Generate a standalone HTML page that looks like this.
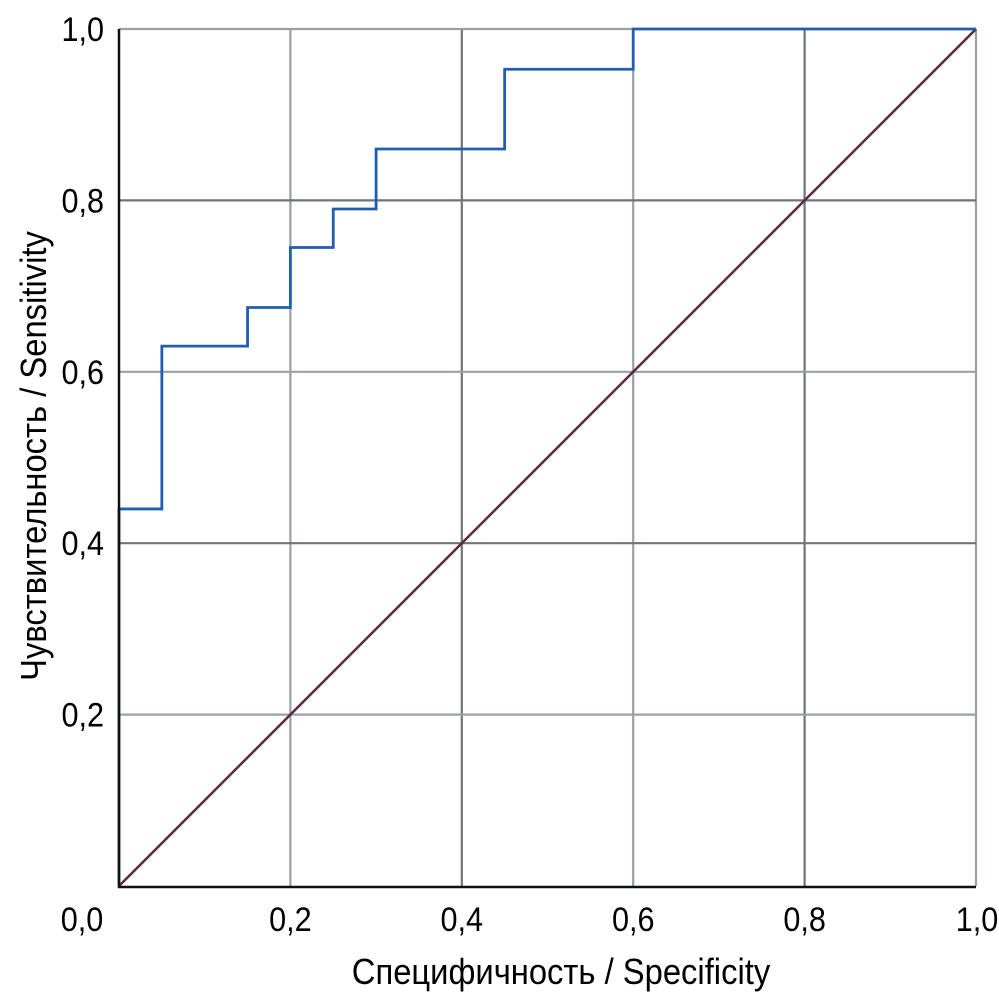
<!DOCTYPE html>
<html><head><meta charset="utf-8">
<style>
html,body{margin:0;padding:0;background:#fff;}
svg{display:block;}
text{font-family:"Liberation Sans",sans-serif;fill:#000;}
</style></head>
<body>
<svg id="chart" width="999" height="1001" xmlns="http://www.w3.org/2000/svg">
<g id="grid"></g>
<g id="series"></g>
<g id="axes"></g>
<text x="0" y="0" font-size="36" text-anchor="middle" transform="translate(561,984) scale(0.91,1)">Специфичность / Specificity</text>
<text x="0" y="0" font-size="36" text-anchor="middle" transform="translate(46,456) rotate(-90) scale(0.91,1)">Чувствительность / Sensitivity</text>
</svg>
<script>
const xTicks = [0, 0.2, 0.4, 0.6, 0.8, 1.0];
const yTicks = [0.2, 0.4, 0.6, 0.8, 1.0];
const tickLabelsX = ["0,0","0,2","0,4","0,6","0,8","1,0"];
const tickLabelsY = ["0,2","0,4","0,6","0,8","1,0"];
const rocX = [0, 0, 0.05, 0.05, 0.15, 0.15, 0.2, 0.2, 0.25, 0.25, 0.3, 0.3, 0.45, 0.45, 0.6, 0.6, 1.0];
const rocY = [0, 0.44, 0.44, 0.63, 0.63, 0.675, 0.675, 0.745, 0.745, 0.79, 0.79, 0.86, 0.86, 0.953, 0.953, 1.0, 1.0];
const diagX = [0, 1];
const diagY = [0, 1];

const X0=119, X1=976, Y0=886, Y1=29;
function sx(v){return X0+(X1-X0)*v;}
function sy(v){return Y0-(Y0-Y1)*v;}
const NS="http://www.w3.org/2000/svg";
function mk(tag,attrs,parent){const e=document.createElementNS(NS,tag);for(const k in attrs)e.setAttribute(k,attrs[k]);document.getElementById(parent).appendChild(e);return e;}

xTicks.forEach((t,i)=>{
  if(t>0){
    const l=mk('line',{x1:sx(t),x2:sx(t),y1:sy(0),y2:sy(1),stroke:(i%2==0?'#6e7478':'#9aa0a4'),'stroke-width':2.2},'grid');
    
    
  }
  const cx = i==0 ? 82 : (i==xTicks.length-1 ? 977 : sx(t));
  const tx=mk('text',{x:0,y:0,'font-size':34,'text-anchor':'middle',transform:`translate(${cx},931) scale(0.9,1)`},'axes');
  tx.textContent=tickLabelsX[i];
  
  
});
yTicks.forEach((t,i)=>{
  const l=mk('line',{x1:sx(0),x2:sx(1),y1:sy(t),y2:sy(t),stroke:(i%2==1?'#6e7478':'#9aa0a4'),'stroke-width':2.2},'grid');
  
  
  const tx=mk('text',{x:0,y:0,'font-size':34,'text-anchor':'end',transform:`translate(104,${sy(t)+12}) scale(0.9,1)`},'axes');
  tx.textContent=tickLabelsY[i];
  
  
});

const dl=mk('polyline',{points:diagX.map((v,i)=>sx(v)+','+sy(diagY[i])).join(' '),fill:'none',stroke:'#5a2a3a','stroke-width':2.5},'series');



const rl=mk('polyline',{points:rocX.map((v,i)=>sx(v)+','+sy(rocY[i])).join(' '),fill:'none',stroke:'#1e5fae','stroke-width':2.8},'series');



const ax=mk('polyline',{points:`${sx(0)},${sy(1)} ${sx(0)},${sy(0)+1} ${sx(1)},${sy(0)+1}`,fill:'none',stroke:'#111','stroke-width':2.5},'axes');


</script>
</body></html>
